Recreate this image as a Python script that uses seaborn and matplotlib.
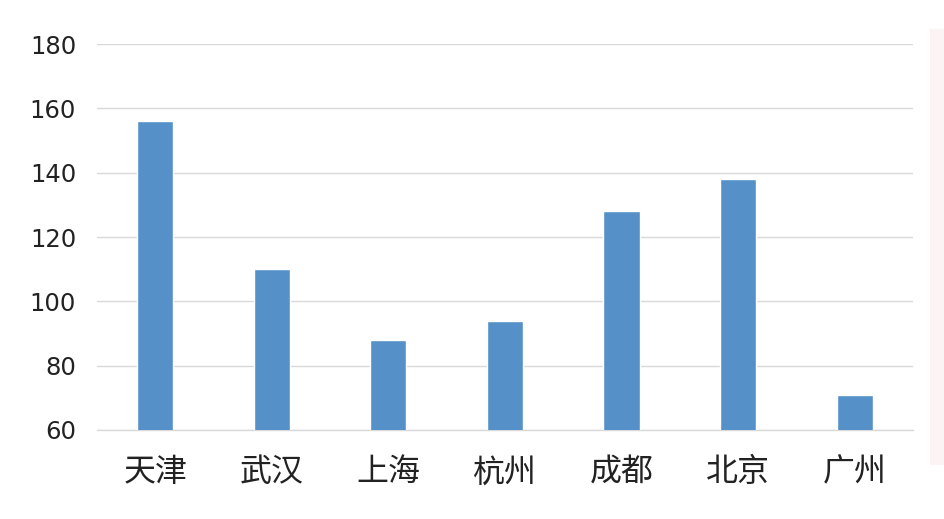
import matplotlib
matplotlib.use("Agg")
import matplotlib.pyplot as plt
import seaborn as sns
import pandas as pd
from matplotlib.patches import Rectangle

cities = ["天津", "武汉", "上海", "杭州", "成都", "北京", "广州"]
values = [156, 110, 88, 94, 128, 138, 71]
y_ticks = [60, 80, 100, 120, 140, 160, 180]

df = pd.DataFrame({"city": cities, "value": values})

sns.set_theme(style="white")
plt.rcParams["font.family"] = ["Noto Sans CJK SC", "DejaVu Sans"]

fig = plt.figure(figsize=(9.45, 5.19), dpi=100)
ax = fig.add_axes([0.1026, 0.1715, 0.8634, 0.7435])

# faint pink strip on the right edge, as in the screenshot
fig.patches.append(Rectangle((0.984, 0.105), 0.016, 0.84, transform=fig.transFigure,
                             facecolor="#fcf4f4", edgecolor="none", zorder=0))

sns.barplot(data=df, x="city", y="value", color="#5591c8", width=0.31,
            saturation=1, ax=ax, zorder=3)

ax.set_ylim(60, 180)
ax.set_xlim(-0.5, 6.5)
ax.set_yticks(y_ticks)
ax.yaxis.grid(True, color="#d9d9d9", linewidth=1)
ax.set_axisbelow(True)
for s in ["top", "right", "left"]:
    ax.spines[s].set_visible(False)
ax.spines["bottom"].set_color("#d9d9d9")
ax.spines["bottom"].set_linewidth(1)
ax.tick_params(axis="y", length=0, pad=15)
ax.tick_params(axis="x", length=0, pad=19, labelsize=23, labelcolor="#222222")
for lbl in ax.get_yticklabels():
    lbl.set_fontfamily("DejaVu Sans")
    lbl.set_fontsize(17.5)
    lbl.set_color("#222222")
ax.set_xlabel("")
ax.set_ylabel("")

fig.savefig("out.png", dpi=100, facecolor="white")
